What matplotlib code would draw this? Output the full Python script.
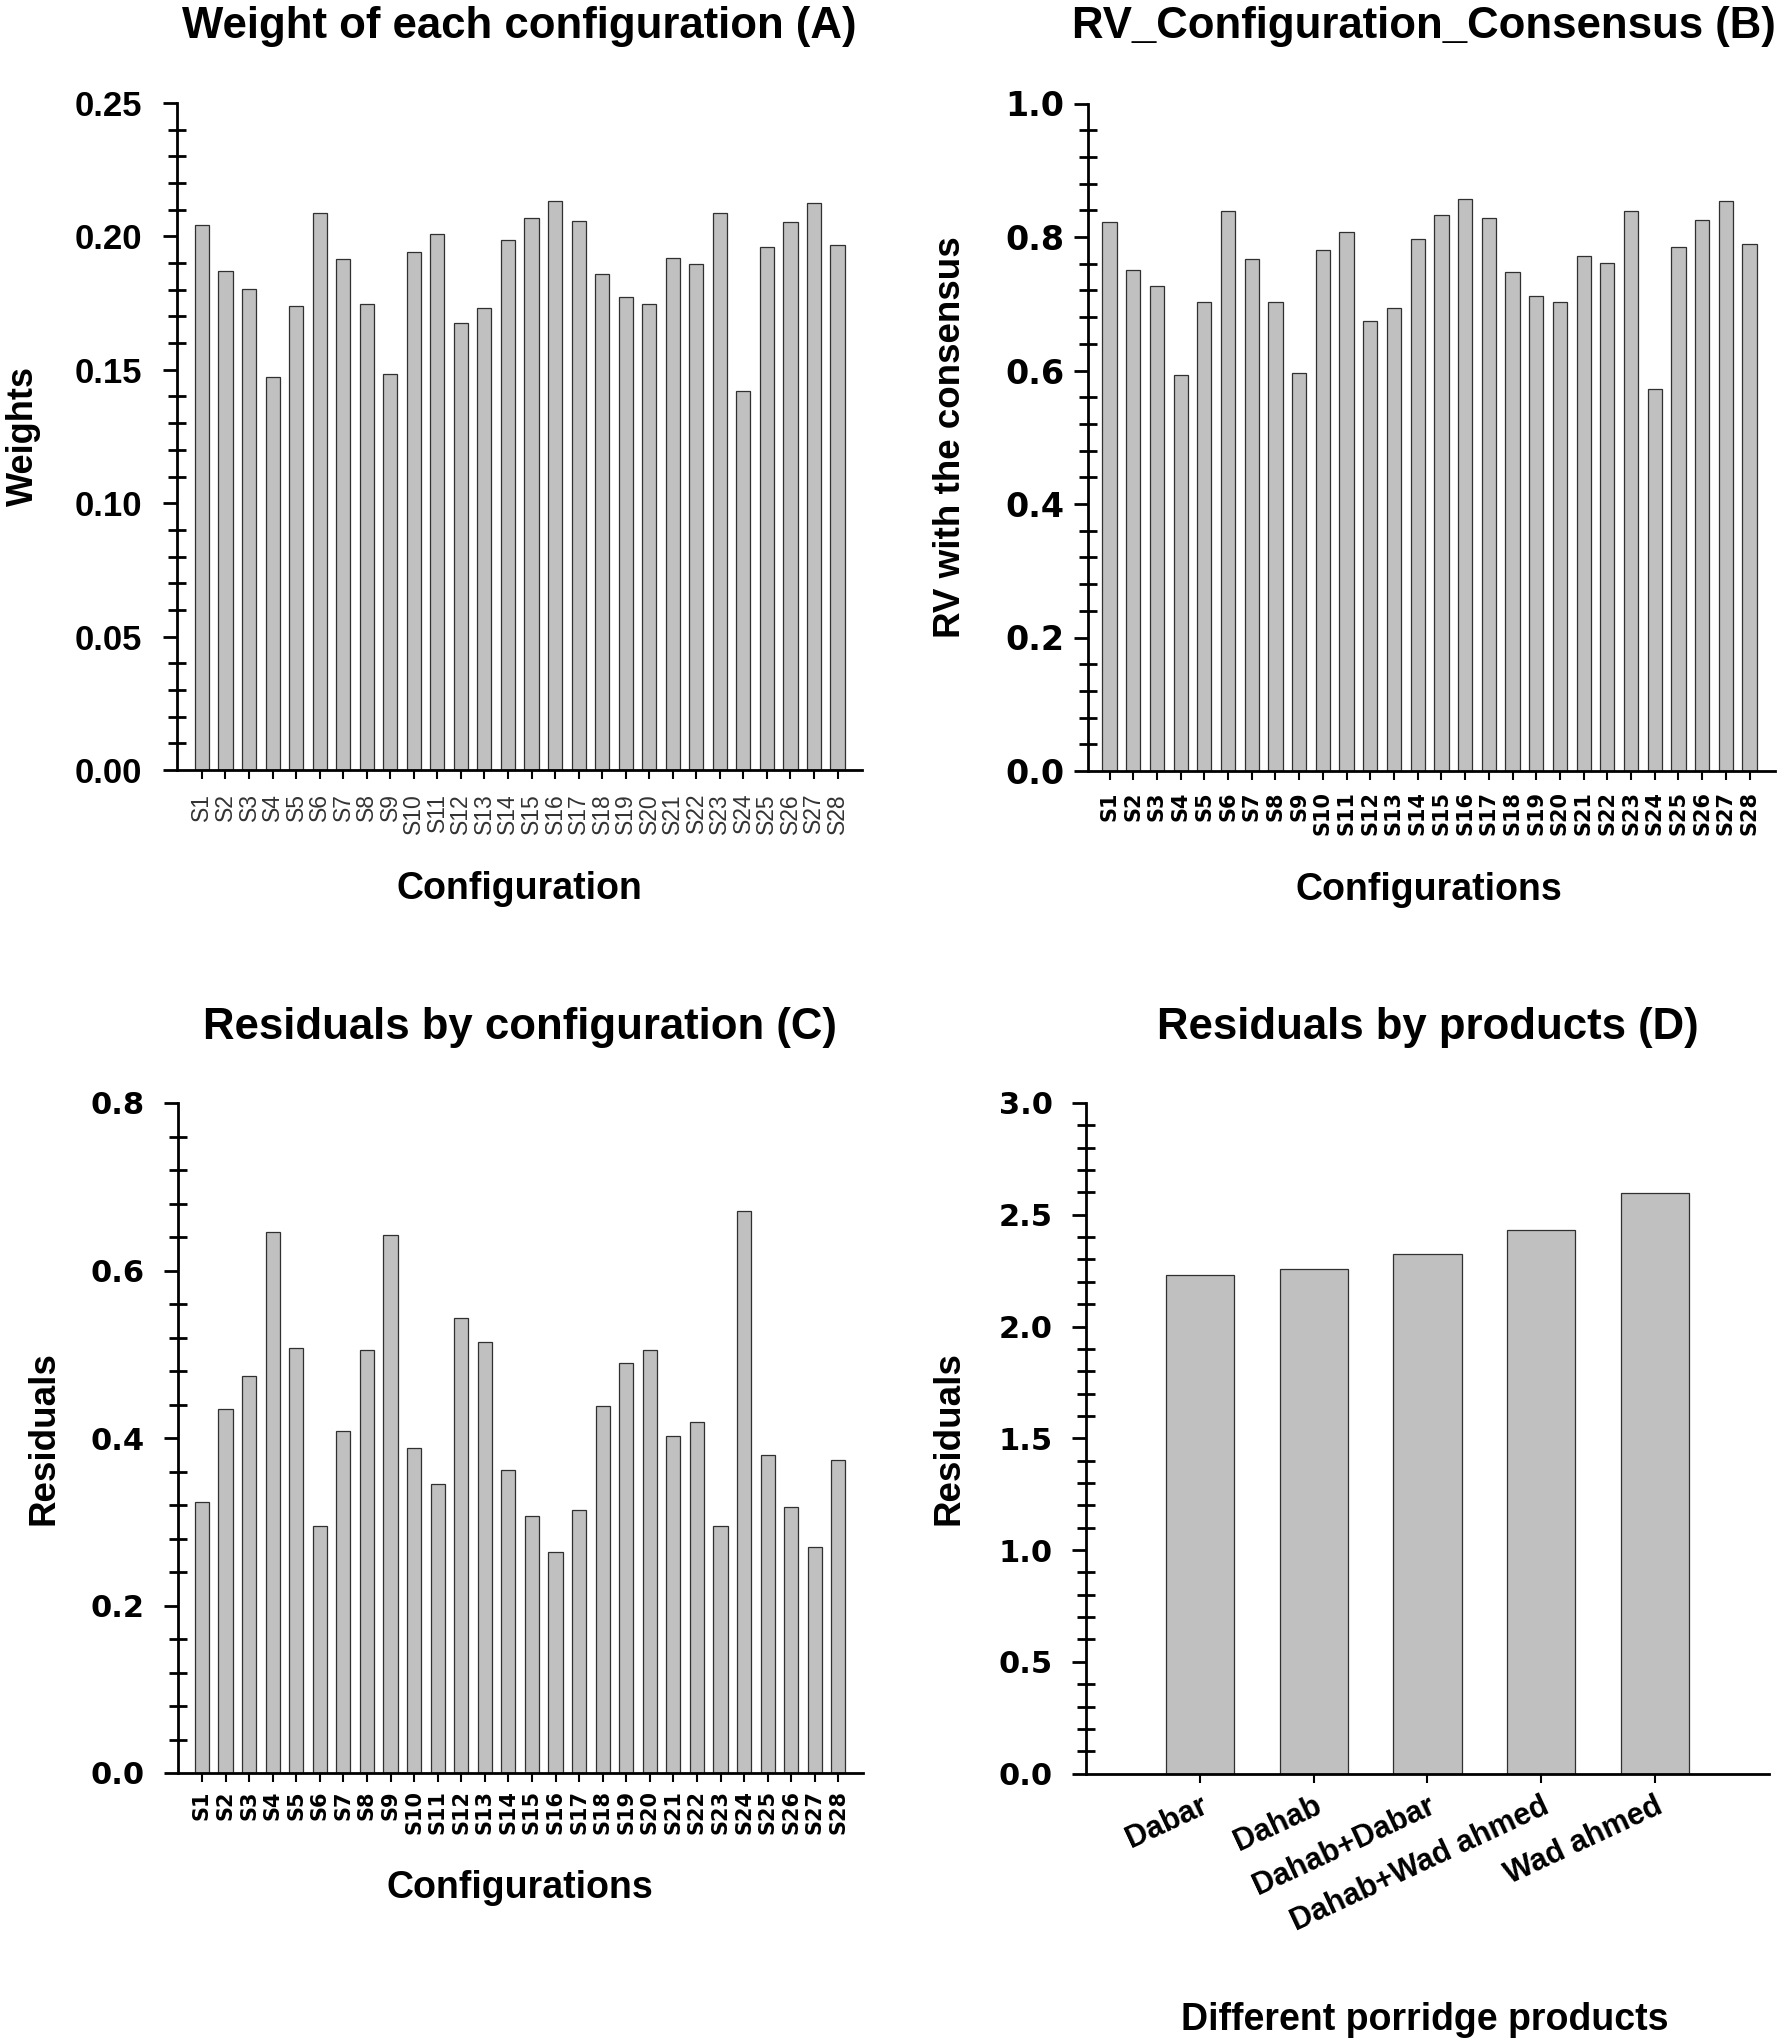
import matplotlib
matplotlib.use("Agg")
import matplotlib.pyplot as plt
from matplotlib.ticker import MultipleLocator, FormatStrFormatter
import numpy as np

# ---------------- data ----------------
configs = ["S%d" % i for i in range(1, 29)]
weights = [0.2041, 0.1871, 0.1802, 0.1474, 0.1741, 0.2086, 0.1914, 0.1746, 0.1485, 0.1942,
           0.2009, 0.1677, 0.1731, 0.1985, 0.2069, 0.2131, 0.2058, 0.1860, 0.1774, 0.1746,
           0.1918, 0.1897, 0.2086, 0.1422, 0.1959, 0.2054, 0.2125, 0.1968]
rv_consensus = [0.822, 0.750, 0.726, 0.594, 0.702, 0.839, 0.767, 0.702, 0.597, 0.781,
                0.808, 0.674, 0.694, 0.797, 0.833, 0.857, 0.828, 0.748, 0.712, 0.703,
                0.772, 0.761, 0.839, 0.572, 0.785, 0.826, 0.854, 0.790]
residuals_config = [0.324, 0.4345, 0.474, 0.6463, 0.5077, 0.2944, 0.4086, 0.5056, 0.6427, 0.3885,
                    0.3454, 0.5429, 0.5142, 0.3619, 0.3066, 0.2643, 0.3138, 0.4381, 0.4898, 0.5056,
                    0.4029, 0.4187, 0.2944, 0.6714, 0.3799, 0.3174, 0.270, 0.3741]
products = ["Dabar", "Dahab", "Dahab+Dabar", "Dahab+Wad ahmed", "Wad ahmed"]
residuals_products = [2.229, 2.256, 2.323, 2.430, 2.598]

W, H = 1783, 2043
fig = plt.figure(figsize=(W / 100, H / 100), dpi=100)

LIB = ["Liberation Sans", "DejaVu Sans"]
DJV = ["DejaVu Sans"]
BAR_C = "#C0C0C0"
EDGE_C = "#303030"


def make_ax(px_left, px_right, px_top, px_bottom):
    return fig.add_axes([px_left / W, 1 - px_bottom / H,
                         (px_right - px_left) / W, (px_bottom - px_top) / H])


def style(ax, ymax, major, minor, fmt, ypad, ytick_font, ytick_size):
    ax.set_ylim(0, ymax)
    ax.yaxis.set_major_locator(MultipleLocator(major))
    ax.yaxis.set_minor_locator(MultipleLocator(minor))
    ax.yaxis.set_major_formatter(FormatStrFormatter(fmt))
    for s in ("top", "right"):
        ax.spines[s].set_visible(False)
    for s in ("left", "bottom"):
        ax.spines[s].set_linewidth(2.0)
        ax.spines[s].set_color("black")
    ax.tick_params(axis="y", which="major", direction="out", length=10, width=2.0,
                   pad=ypad, colors="black")
    ax.tick_params(axis="y", which="minor", direction="inout", length=13, width=2.0)
    ax.tick_params(axis="x", which="major", direction="out", length=6.5, width=1.5)
    for lab in ax.get_yticklabels():
        lab.set_fontfamily(ytick_font)
        lab.set_fontweight("bold")
        lab.set_fontsize(ytick_size)


# ---------------- Panel A ----------------
axA = make_ax(177, 862, 103, 770)
xA = np.arange(len(configs))
axA.bar(xA, weights, width=0.6, color=BAR_C, edgecolor=EDGE_C, linewidth=0.9)
axA.set_xlim(-1.06, 28.04)
style(axA, 0.25, 0.05, 0.01, "%.2f", 15, LIB, 25)
axA.set_xticks(xA)
axA.set_xticklabels(configs, rotation=90, fontsize=16.5, family=LIB, color="#333333")
axA.tick_params(axis="x", pad=10)
axA.set_title("Weight of each configuration (A)", fontsize=31.5, fontweight="bold",
              family=LIB, pad=47)
axA.set_xlabel("Configuration", fontsize=27, fontweight="bold", family=LIB, va="baseline")
axA.xaxis.set_label_coords(0.5, -0.193)
axA.set_ylabel("Weights", fontsize=26, fontweight="bold", family=LIB, va="center")
axA.yaxis.set_label_coords(-0.2248, 0.5)

# ---------------- Panel B ----------------
axB = make_ax(1087.7, 1774.7, 103.5, 771)
xB = np.arange(len(configs))
axB.bar(xB, rv_consensus, width=0.6, color=BAR_C, edgecolor=EDGE_C, linewidth=0.9)
axB.set_xlim(-0.92, 28.06)
style(axB, 1.0, 0.2, 0.04, "%.1f", 7, DJV, 24)
axB.set_xticks(xB)
axB.set_xticklabels(configs, rotation=90, fontsize=15, family=DJV, fontweight="bold")
axB.tick_params(axis="x", pad=8)
axB.set_title("RV_Configuration_Consensus (B)", fontsize=31.5, fontweight="bold",
              family=LIB, pad=47, x=0.49)
axB.set_xlabel("Configurations", fontsize=27, fontweight="bold", family=LIB, va="baseline")
axB.xaxis.set_label_coords(0.4968, -0.193)
axB.set_ylabel("RV with the consensus", fontsize=26.5, fontweight="bold", family=LIB,
               va="center")
axB.yaxis.set_label_coords(-0.2004, 0.5)

# ---------------- Panel C ----------------
axC = make_ax(177.7, 862.7, 1103, 1773)
xC = np.arange(len(configs))
axC.bar(xC, residuals_config, width=0.6, color=BAR_C, edgecolor=EDGE_C, linewidth=0.9)
axC.set_xlim(-1.03, 28.03)
style(axC, 0.8, 0.2, 0.04, "%.1f", 14, DJV, 22)
axC.set_xticks(xC)
axC.set_xticklabels(configs, rotation=90, fontsize=15, family=DJV, fontweight="bold")
axC.tick_params(axis="x", pad=6)
axC.set_title("Residuals by configuration (C)", fontsize=31.5, fontweight="bold",
              family=LIB, pad=46)
axC.set_xlabel("Configurations", fontsize=27, fontweight="bold", family=LIB, va="baseline")
axC.xaxis.set_label_coords(0.5, -0.1866)
axC.set_ylabel("Residuals", fontsize=26.5, fontweight="bold", family=LIB, va="center")
axC.yaxis.set_label_coords(-0.1959, 0.5)

# ---------------- Panel D ----------------
axD = make_ax(1086.3, 1768.6, 1103, 1773.6)
xD = np.arange(len(products))
axD.bar(xD, residuals_products, width=0.6, color=BAR_C, edgecolor=EDGE_C, linewidth=0.9)
axD.set_xlim(-1, 5)
style(axD, 3.0, 0.5, 0.1, "%.1f", 14, DJV, 22)
axD.set_xticks(xD)
axD.set_xticklabels(products, rotation=25, ha="right", va="top", rotation_mode="anchor",
                    fontsize=22, family=LIB, fontweight="bold")
axD.tick_params(axis="x", pad=6)
axD.set_title("Residuals by products (D)", fontsize=31.5, fontweight="bold",
              family=LIB, pad=46)
axD.set_xlabel("Different porridge products", fontsize=27, fontweight="bold", family=LIB,
               va="baseline")
axD.xaxis.set_label_coords(0.4964, -0.3823)
axD.set_ylabel("Residuals", fontsize=26.5, fontweight="bold", family=LIB, va="center")
axD.yaxis.set_label_coords(-0.2005, 0.5)

fig.savefig("out.png", dpi=100, facecolor="white")
